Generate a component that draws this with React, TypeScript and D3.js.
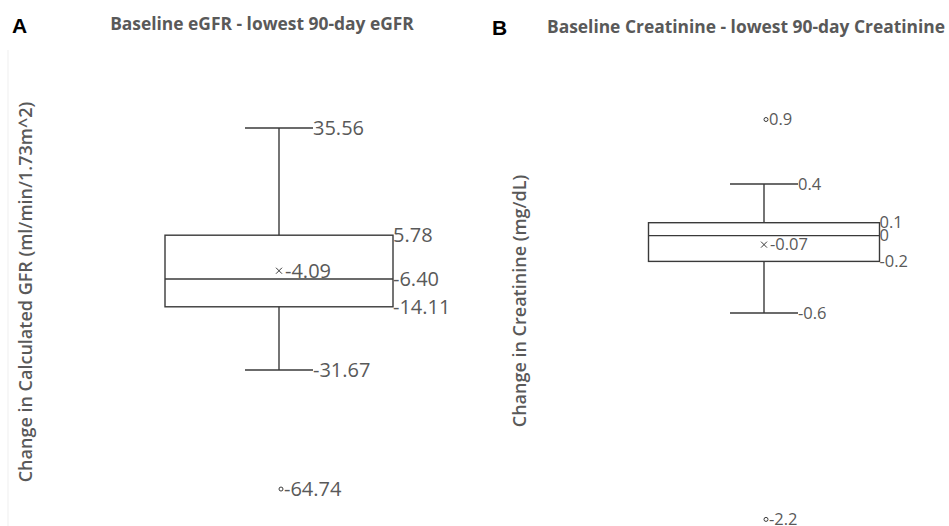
import React from "react";
import * as d3 from "d3";

// five-number summaries: [upper whisker, Q3, median, Q1, lower whisker]
const egfrStats = [35.56, 5.78, -6.4, -14.11, -31.67];
const egfrMean = -4.09;
const egfrOutliers = [-64.74];

const creatStats = [0.4, 0.1, 0, -0.2, -0.6];
const creatMean = -0.07;
const creatOutliers = [0.9, -2.2];

const panelLetters = ["A", "B"];
const panelTitles = [
  "Baseline eGFR - lowest 90-day eGFR",
  "Baseline Creatinine - lowest 90-day Creatinine",
];
const axisTitles = [
  "Change in Calculated GFR (ml/min/1.73m^2)",
  "Change in Creatinine (mg/dL)",
];

const textColor = "#595959";
const lineColor = "#3a3a3a";
const font = "'Open Sans', 'Liberation Sans', sans-serif";

type BoxProps = {
  stats: number[];
  mean: number;
  outliers: number[];
  y: d3.ScaleLinear<number, number>;
  cx: number;
  boxW: number;
  capW: number;
  fmt: (v: number) => string;
  fontSize: number;
};

const Box = ({ stats, mean, outliers, y, cx, boxW, capW, fmt, fontSize }: BoxProps) => {
  const [hi, q3, med, q1, lo] = stats;
  const x0 = cx - boxW / 2;
  const x1 = cx + boxW / 2;
  const c0 = cx - capW / 2;
  const c1 = cx + capW / 2;
  const lbl = (v: number, x: number, key: string) => (
    <text key={key} x={x} y={y(v)} dy="0.35em" fontSize={fontSize} fill={textColor} fontFamily={font}>
      {fmt(v)}
    </text>
  );
  return (
    <g>
      <g stroke={lineColor} strokeWidth={1.4} fill="none">
        <line x1={cx} x2={cx} y1={y(hi)} y2={y(q3)} />
        <line x1={cx} x2={cx} y1={y(q1)} y2={y(lo)} />
        <line x1={c0} x2={c1} y1={y(hi)} y2={y(hi)} />
        <line x1={c0} x2={c1} y1={y(lo)} y2={y(lo)} />
        <rect x={x0} y={y(q3)} width={boxW} height={y(q1) - y(q3)} />
        <line x1={x0} x2={x1} y1={y(med)} y2={y(med)} />
        {outliers.map((o, i) => (
          <circle key={i} cx={cx + 2} cy={y(o)} r={2} strokeWidth={1} />
        ))}
      </g>
      <g stroke={lineColor} strokeWidth={1}>
        <line x1={cx - 3} x2={cx + 3} y1={y(mean) - 3} y2={y(mean) + 3} />
        <line x1={cx - 3} x2={cx + 3} y1={y(mean) + 3} y2={y(mean) - 3} />
      </g>
      {lbl(hi, c1, "hi")}
      {lbl(lo, c1, "lo")}
      {lbl(q3, x1, "q3")}
      {lbl(med, x1, "med")}
      {lbl(q1, x1, "q1")}
      {lbl(mean, cx + 6, "mean")}
      {outliers.map((o, i) => lbl(o, cx + 5, `o${i}`))}
    </g>
  );
};

const App = () => {
  const width = 949;
  const height = 526;

  const yA = d3.scaleLinear().domain([35.56, -31.67]).range([128, 370]);
  const yB = d3.scaleLinear().domain([0.4, -0.6]).range([184, 313]);

  const f2 = d3.format(".2f");
  const fmtA = (v: number) => f2(v).replace("\u2212", "-");
  const fmtB = (v: number) => String(v);

  return (
    <svg
      width={width}
      height={height}
      style={{ position: "absolute", left: 0, top: 0, background: "#fff" }}
    >
      <line x1={8} x2={8} y1={50} y2={526} stroke="#efefef" strokeWidth={1} />

      {/* panel letters */}
      <text x={12} y={33} fontSize={21} fontWeight="bold" fontFamily="'Liberation Sans', Arial, sans-serif">
        {panelLetters[0]}
      </text>
      <text x={492} y={35} fontSize={21} fontWeight="bold" fontFamily="'Liberation Sans', Arial, sans-serif">
        {panelLetters[1]}
      </text>

      {/* titles */}
      <text x={262} y={30} textAnchor="middle" fontSize={17.4} fontWeight="bold" fill={textColor} fontFamily={font}>
        {panelTitles[0]}
      </text>
      <text x={746} y={33} textAnchor="middle" fontSize={17.4} fontWeight="bold" fill={textColor} fontFamily={font}>
        {panelTitles[1]}
      </text>

      {/* axis titles */}
      <text
        transform="translate(26,292) rotate(-90)"
        dy="0.35em"
        textAnchor="middle"
        fontSize={18}
        fontWeight={600}
        fill={textColor}
        fontFamily={font}
      >
        {axisTitles[0]}
      </text>
      <text
        transform="translate(520,301) rotate(-90)"
        dy="0.35em"
        textAnchor="middle"
        fontSize={18}
        fontWeight={600}
        fill={textColor}
        fontFamily={font}
      >
        {axisTitles[1]}
      </text>

      <Box
        stats={egfrStats}
        mean={egfrMean}
        outliers={egfrOutliers}
        y={yA}
        cx={279}
        boxW={228}
        capW={68}
        fmt={fmtA}
        fontSize={20}
      />
      <Box
        stats={creatStats}
        mean={creatMean}
        outliers={creatOutliers}
        y={yB}
        cx={764}
        boxW={231}
        capW={68}
        fmt={fmtB}
        fontSize={16.5}
      />
    </svg>
  );
};

export default App;
